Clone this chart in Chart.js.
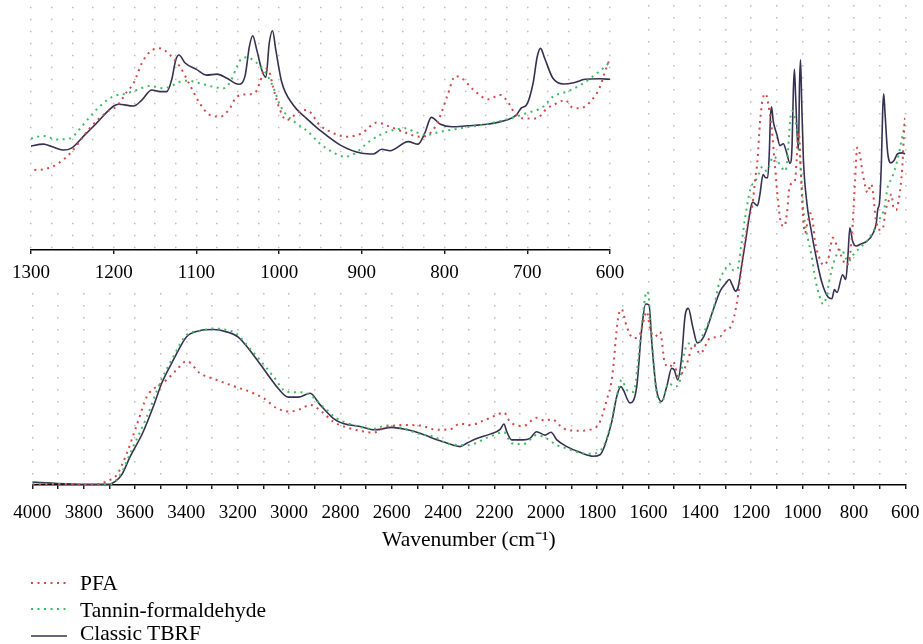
<!DOCTYPE html>
<html><head><meta charset="utf-8">
<script src="https://cdn.jsdelivr.net/npm/chart.js@4"></script>
<style>
html,body{margin:0;padding:0;background:#fff;}
#wrap{position:relative;width:923px;height:644px;overflow:hidden;background:#fff;}
#main{position:absolute;left:0;top:0;}
#inset{position:absolute;left:0;top:0;background:#fff;}
.lg-sample{position:absolute;}
.lg-text{position:absolute;font-family:"Liberation Serif",serif;font-size:21.5px;line-height:24px;color:#000;white-space:nowrap;}
</style></head><body>
<div id="wrap">
<canvas id="main" width="923" height="644"></canvas>
<canvas id="inset" width="640" height="290"></canvas>
<div id="legend"></div>
</div>
<script>
// ---------- data (wavenumber in cm^-1, signal in arbitrary units 0..100) ----------
const seriesNames = ['PFA', 'Tannin-formaldehyde', 'Classic TBRF'];

const pfaWn = [4000,3800,3736,3700,3671,3632,3593,3554,3516,3477,3438,3399,3347,3282,3217,3152,3100,3048,2996,2957,
  2918,2873,2828,2776,2724,2672,2620,2555,2490,2425,2373,2334,2295,2243,2191,2163,2140,2088,2036,2003,
  1977,1932,1880,1821,1789,1763,1743,1718,1705,1685,1659,1632,1607,1593,1575,1555,1536,1516,1504,1484,
  1451,1425,1399,1360,1322,
  1300,1285,1267,1251,1229,1208,1196,1184,1176,1166,1156,1144,1132,1120,1108,1096,1084,1071,1061,1051,
  1039,1029,1023,1017,1012,1007,999,991,981,971,963,951,938,918,900,882,866,850,830,820,
  808,797,787,779,765,747,733,725,715,705,689,676,664,654,646,636,624,612,606,600];
const pfaVal = [0,0,0.3,1.0,2.1,6.6,12.5,18.4,20.5,21.9,24.0,25.8,23.3,21.9,20.6,19.4,18.1,16.0,15.3,15.8,
  16.7,15.3,13.2,12.0,11.3,10.9,12.1,12.5,12.4,11.5,11.6,12.8,12.5,13.4,14.6,15.1,13.2,12.3,14.0,13.4,
  13.7,11.8,11.3,11.6,13.2,17.7,22.0,35.0,36.6,33.0,30.6,31.6,36.1,32.3,30.9,31.9,25.3,24.6,25.7,22.6,
  25.3,29.2,27.4,30.6,30.9,
  32.3,32.6,35.0,39.7,49.2,55.9,58.2,64.0,67.4,75.5,80.2,81.5,78.8,74.1,66.7,59.3,54.6,53.9,56.6,62.0,
  62.9,63.6,68.0,73.4,72.1,65.4,56.6,52.5,54.6,56.6,55.9,50.5,47.8,45.8,47.2,51.5,49.8,47.8,45.8,46.5,
  51.9,62.0,70.3,69.4,64.7,60.9,62.7,60.6,55.3,53.2,53.2,57.3,59.3,60.6,57.7,57.3,59.9,66.0,72.1,77.5];

const tanninWn = [4000,3700,3658,3607,3554,3503,3451,3399,3347,3295,3243,3204,3165,3113,3061,3009,2957,2918,2867,2815,
  2750,2672,2620,2555,2490,2438,2386,2308,2217,2163,2133,2088,2036,1997,1957,1918,1867,1815,1796,1776,
  1750,1724,1705,1685,1659,1632,1607,1602,1588,1568,1549,1523,1497,1477,1464,1445,1413,1380,1348,1322,
  1300,1285,1269,1253,1239,1225,1208,1198,1184,1172,1156,1140,1130,1120,1110,1096,1080,1067,1059,1051,
  1045,1039,1029,1019,1011,1005,999,991,979,965,951,934,920,908,894,878,862,848,836,822,
  805,781,749,725,701,681,669,652,632,616,606,600];
const tanninVal = [0.3,0.1,2.1,8.0,14.2,21.2,26.7,31.25,32.1,32.6,32.3,31.5,29.2,26.0,22.6,19.4,19.3,18.75,16.3,13.9,
  12.5,11.7,12.4,11.8,10.6,10.1,8.7,8.3,10.1,11.0,8.7,8.5,10.4,9.7,8.3,7.6,6.7,6.5,6.9,8.0,
  12.1,18.4,21.9,19.8,19.4,30.2,40.3,40.0,30.9,19.1,17.1,21.2,20.5,21.9,26.7,29.5,29.2,32.3,36.5,42.7,
  45.1,46.1,44.7,45.1,49.8,55.3,60.6,62.4,63.3,64.7,66.3,65.4,66.3,68.0,68.4,67.4,66.0,65.4,68.0,74.1,
  77.5,77.9,76.1,72.8,68.7,64.0,58.6,54.6,51.2,47.8,43.1,39.3,37.7,39.1,43.1,46.5,48.5,49.2,47.8,46.5,
  47.8,49.2,50.9,52.8,55.3,57.9,62.0,64.0,67.4,71.4,74.1,76.1];

const classicWn = [4000,3900,3800,3700,3678,3652,3619,3568,3529,3496,3451,3399,3353,3295,3243,3198,3139,3087,3042,3003,
  2964,2918,2879,2828,2789,2724,2665,2600,2548,2490,2438,2399,2360,2334,2308,2269,2217,2178,2163,2152,
  2133,2088,2062,2036,2003,1980,1957,1918,1867,1815,1789,1770,1743,1724,1708,1672,1646,1627,1611,1598,
  1588,1571,1549,1529,1510,1500,1486,1471,1458,1445,1428,1410,1386,1348,1322,
  1300,1285,1275,1261,1251,1237,1221,1200,1194,1176,1166,1154,1144,1136,1130,1125,1121,1114,1100,1088,
  1075,1063,1049,1041,1036,1032,1027,1021,1016,1012,1008,1004,997,983,967,951,926,900,886,876,
  866,844,832,824,816,805,791,773,749,725,713,707,701,693,688,684,679,669,656,644,630,612,600];
const classicVal = [0.6,0.3,0.15,0.15,0.7,2.1,5.9,11.1,16.3,21.2,26.0,30.9,32.1,32.4,31.9,30.8,27.1,23.3,20.1,18.3,
  18.3,19.1,16.7,13.9,12.8,12.2,11.5,12.0,11.6,10.8,9.7,9.0,8.3,8.0,8.7,9.7,10.6,11.6,12.7,11.1,
  9.4,9.4,9.7,11.1,10.4,11.0,9.4,8.0,6.8,6.0,6.3,8.3,13.2,18.4,20.5,17.1,20.5,32.3,37.7,37.5,
  30.2,20.5,17.4,20.5,24.3,24.0,21.9,26.7,35.1,36.8,33.0,29.6,30.8,36.5,40.3,
  42.0,42.8,41.8,40.4,41.2,45.8,51.2,58.2,58.9,58.2,60.6,64.7,64.0,64.0,68.7,76.8,78.8,75.7,73.0,70.7,
  71.1,69.4,67.0,70.7,82.2,86.6,80.8,72.8,69.8,83.5,88.6,80.8,68.0,58.6,53.2,48.5,42.4,39.1,38.8,40.7,
  40.1,43.8,42.8,47.2,53.6,50.8,49.8,50.2,50.8,52.5,54.6,57.5,58.6,67.4,78.1,81.5,77.5,69.4,67.1,67.6,
  69.0,69.2,69.0];

// ---------- helpers ----------
const SERIF = '"Liberation Serif", "Times New Roman", serif';
Chart.defaults.font.family = SERIF;
Chart.defaults.color = '#000';

function pts(wn, vals) { return wn.map((w, i) => ({ x: w, y: vals[i] })); }
function makeDatasets() {
  return [
    { label: seriesNames[0], data: pts(pfaWn, pfaVal), borderColor: '#d04848', borderWidth: 2, borderDash: [2, 4.5] },
    { label: seriesNames[1], data: pts(tanninWn, tanninVal), borderColor: '#3fba62', borderWidth: 2, borderDash: [2, 4.5] },
    { label: seriesNames[2], data: pts(classicWn, classicVal), borderColor: '#363150', borderWidth: 1.6, borderDash: [] }
  ];
}

const commonOpts = {
  responsive: false, animation: false, devicePixelRatio: 1,
  plugins: { legend: { display: false }, tooltip: { enabled: false } },
  elements: { point: { radius: 0 }, line: { cubicInterpolationMode: 'monotone', fill: false } }
};

function fixScale(h) {
  return s => { s.height = h; s.paddingLeft = 0; s.paddingRight = 0; };
}

// ---------- main chart ----------
const mainChart = new Chart(document.getElementById('main'), {
  type: 'line',
  data: { datasets: makeDatasets() },
  options: Object.assign({}, commonOpts, {
    layout: { padding: { left: 32.3, right: 17.7, top: 5, bottom: 89 } },
    scales: {
      x: {
        type: 'linear', min: 600, max: 4000, reverse: true,
        afterFit: fixScale(70),
        ticks: { stepSize: 100, autoSkip: false, maxRotation: 0, minRotation: 0, padding: 13,
          color: '#000', font: { family: SERIF, size: 19 },
          callback: v => (v % 200 === 0 ? String(v) : '') },
        grid: { color: '#bcbcbc', lineWidth: 1.5, tickLength: 4, tickColor: '#000', tickWidth: 1.3 },
        border: { display: true, color: '#000', width: 1.5, dash: [1.5, 10.5], dashOffset: 0 },
        title: { display: true, text: 'Wavenumber (cm⁻¹)', color: '#000',
          font: { family: SERIF, size: 21.5 }, padding: { top: 0, bottom: 2 } }
      },
      y: { type: 'linear', min: 0, max: 100, display: false }
    }
  })
});

// ---------- inset chart (1300-600 cm^-1) ----------
const insetChart = new Chart(document.getElementById('inset'), {
  type: 'line',
  data: { datasets: makeDatasets() },
  options: Object.assign({}, commonOpts, {
    layout: { padding: { left: 31, right: 30, top: 2.6, bottom: 0 } },
    scales: {
      x: {
        type: 'linear', min: 600, max: 1300, reverse: true,
        afterFit: fixScale(40),
        ticks: { stepSize: 25, autoSkip: false, maxRotation: 0, minRotation: 0, padding: 8,
          color: '#000', font: { family: SERIF, size: 19 },
          callback: v => (v % 100 === 0 ? String(v) : '') },
        grid: { color: '#bcbcbc', lineWidth: 1.5, tickLength: 4, tickWidth: 1.3,
          tickColor: c => (c.tick && c.tick.value % 100 === 0 ? '#000' : 'rgba(0,0,0,0)') },
        border: { display: true, color: '#000', width: 1.5, dash: [1.5, 10.5], dashOffset: 7.9 }
      },
      y: { type: 'linear', min: 0, max: 100, display: false }
    }
  })
});

// ---------- legend (built from the chart's datasets) ----------
(function buildLegend() {
  const host = document.getElementById('legend');
  const sampleY = [582.5, 609, 636];
  const textY = [583, 610, 633];
  mainChart.data.datasets.forEach((ds, i) => {
    const c = document.createElement('canvas');
    c.width = 38; c.height = 8; c.className = 'lg-sample';
    c.style.left = '30px'; c.style.top = (sampleY[i] - 4) + 'px';
    const g = c.getContext('2d');
    g.strokeStyle = ds.borderColor; g.lineWidth = ds.borderWidth;
    g.setLineDash(ds.borderDash || []);
    g.beginPath(); g.moveTo(1, 4); g.lineTo(37, 4); g.stroke();
    host.appendChild(c);
    const t = document.createElement('div');
    t.className = 'lg-text'; t.textContent = ds.label;
    t.style.left = '80px'; t.style.top = (textY[i] - 12) + 'px';
    host.appendChild(t);
  });
})();
</script>
</body></html>
